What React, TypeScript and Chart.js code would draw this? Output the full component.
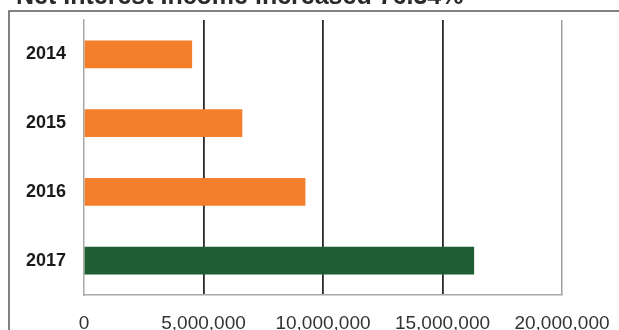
import React, { useEffect, useRef } from "react";
import { Chart, registerables } from "chart.js";

Chart.register(...registerables);

// Net interest income by year
const years = ["2014", "2015", "2016", "2017"];
const netInterestIncome = [4510000, 6610000, 9250000, 16310000];
const barColors = ["#F37F2C", "#F37F2C", "#F37F2C", "#1F5E33"];
const xTicks = [0, 5000000, 10000000, 15000000, 20000000];
const titleText = "Net Interest Income increased 76.34%";

const formatTick = (v: number) => (v === 0 ? "0" : v.toLocaleString("en-US"));

// Outer frame lines of the chart box
const framePlugin = {
  id: "frameLines",
  beforeDraw(chart: any) {
    const { ctx } = chart;
    ctx.save();
    ctx.fillStyle = "#ffffff";
    ctx.fillRect(0, 0, chart.width, chart.height);
    ctx.strokeStyle = "#5a5a5a";
    ctx.lineWidth = 1.5;
    ctx.beginPath();
    ctx.moveTo(9, 330);
    ctx.lineTo(9, 11);
    ctx.lineTo(619, 11);
    ctx.stroke();
    ctx.restore();
  },
};

export default function App() {
  const canvasRef = useRef<HTMLCanvasElement | null>(null);

  useEffect(() => {
    if (!canvasRef.current) return;
    const chart = new Chart(canvasRef.current, {
      type: "bar",
      data: {
        labels: years,
        datasets: [
          {
            data: netInterestIncome,
            backgroundColor: barColors,
            borderWidth: 0,
            barThickness: 27,
          },
        ],
      },
      options: {
        indexAxis: "y",
        animation: false,
        responsive: false,
        maintainAspectRatio: false,
        layout: { padding: { top: 20, right: 57, left: 0, bottom: 0 } },
        plugins: {
          legend: { display: false },
          tooltip: { enabled: false },
        },
        scales: {
          x: {
            min: 0,
            max: 20000000,
            afterBuildTicks: (scale: any) => {
              scale.ticks = xTicks.map((value) => ({ value }));
            },
            afterFit: (scale: any) => {
              scale.height = 35;
              scale.paddingLeft = 0;
              scale.paddingRight = 0;
            },
            ticks: {
              color: "#333333",
              padding: 17,
              maxRotation: 0,
              autoSkip: false,
              font: { family: "'Liberation Sans', Arial, sans-serif", size: 19 },
              callback: (v: any) => formatTick(Number(v)),
            },
            grid: {
              drawTicks: false,
              color: (ctx: any) => {
                const i = ctx.index;
                if (i === 0) return "rgba(0,0,0,0)";
                if (i === xTicks.length - 1) return "#a0a0a0";
                return "#2a2a2a";
              },
              lineWidth: (ctx: any) => (ctx.index === xTicks.length - 1 ? 1.5 : 1.8),
            },
            border: { display: true, color: "#a8a8a8", width: 1.5 },
          },
          y: {
            afterFit: (scale: any) => {
              scale.width = 84;
              scale.paddingTop = 0;
              scale.paddingBottom = 0;
            },
            ticks: {
              color: "#1a1a1a",
              padding: 18,
              font: { family: "'Liberation Sans', Arial, sans-serif", size: 18, weight: "bold" },
            },
            grid: { display: false, drawTicks: false },
            border: { display: true, color: "#a8a8a8", width: 1.5 },
          },
        },
      },
      plugins: [framePlugin],
    } as any);
    return () => chart.destroy();
  }, []);

  return (
    <div
      style={{
        position: "fixed",
        left: 0,
        top: 0,
        width: 619,
        height: 330,
        overflow: "hidden",
        background: "#ffffff",
      }}
    >
      <canvas ref={canvasRef} width={619} height={330} style={{ display: "block" }} />
      <div
        style={{
          position: "absolute",
          left: 16,
          top: -17,
          fontFamily: "'Liberation Sans', Arial, sans-serif",
          fontWeight: "bold",
          fontSize: 25,
          lineHeight: "25px",
          color: "#2a2a2a",
          whiteSpace: "nowrap",
        }}
      >
        {titleText}
      </div>
    </div>
  );
}
